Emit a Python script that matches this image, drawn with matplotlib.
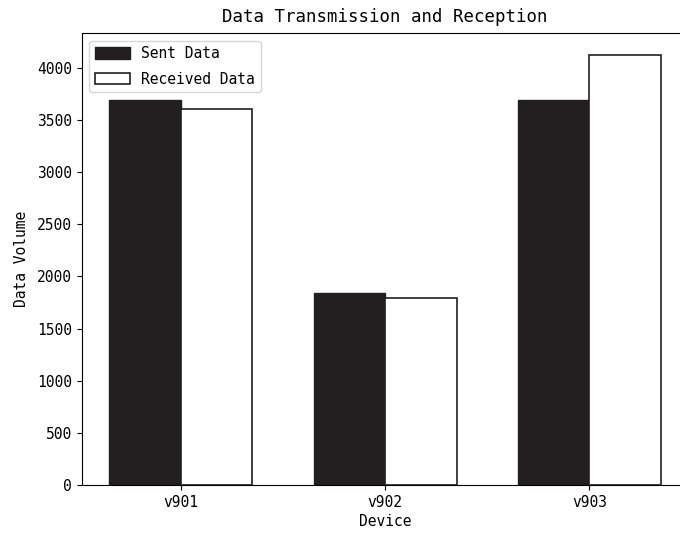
import matplotlib
matplotlib.use("Agg")
import matplotlib.pyplot as plt
import numpy as np

devices = ["v901", "v902", "v903"]
sent = [3690, 1840, 3690]
received = [3600, 1790, 4125]

plt.rcParams['font.family'] = ['DejaVu Sans Mono']

fig = plt.figure(figsize=(6.8, 5.34), dpi=100)
ax = fig.add_axes([0.120, 0.0918, 0.8924, 0.846])

x = np.arange(len(devices))
w = 0.35
ax.bar(x - w / 2, sent, w, color="#231f20", edgecolor="#231f20", linewidth=1, label="Sent Data")
ax.bar(x + w / 2, received, w, color="white", edgecolor="#231f20", linewidth=1.2, label="Received Data")

ax.set_xticks(x)
ax.set_xticklabels(devices, fontsize=10.5)
ax.tick_params(axis='y', labelsize=10.5)
ax.set_xlabel("Device", fontsize=10.5, labelpad=3)
ax.set_ylabel("Data Volume", fontsize=10.5, labelpad=6)
ax.set_title("Data Transmission and Reception", fontsize=12.5, x=(385 - 81.7) / 606.8, pad=8)
ax.legend(loc="upper left", fontsize=10.5, handlelength=2.4, handleheight=0.85,
          labelspacing=0.7, borderaxespad=0.5)

fig.savefig("out.png", dpi=100)
